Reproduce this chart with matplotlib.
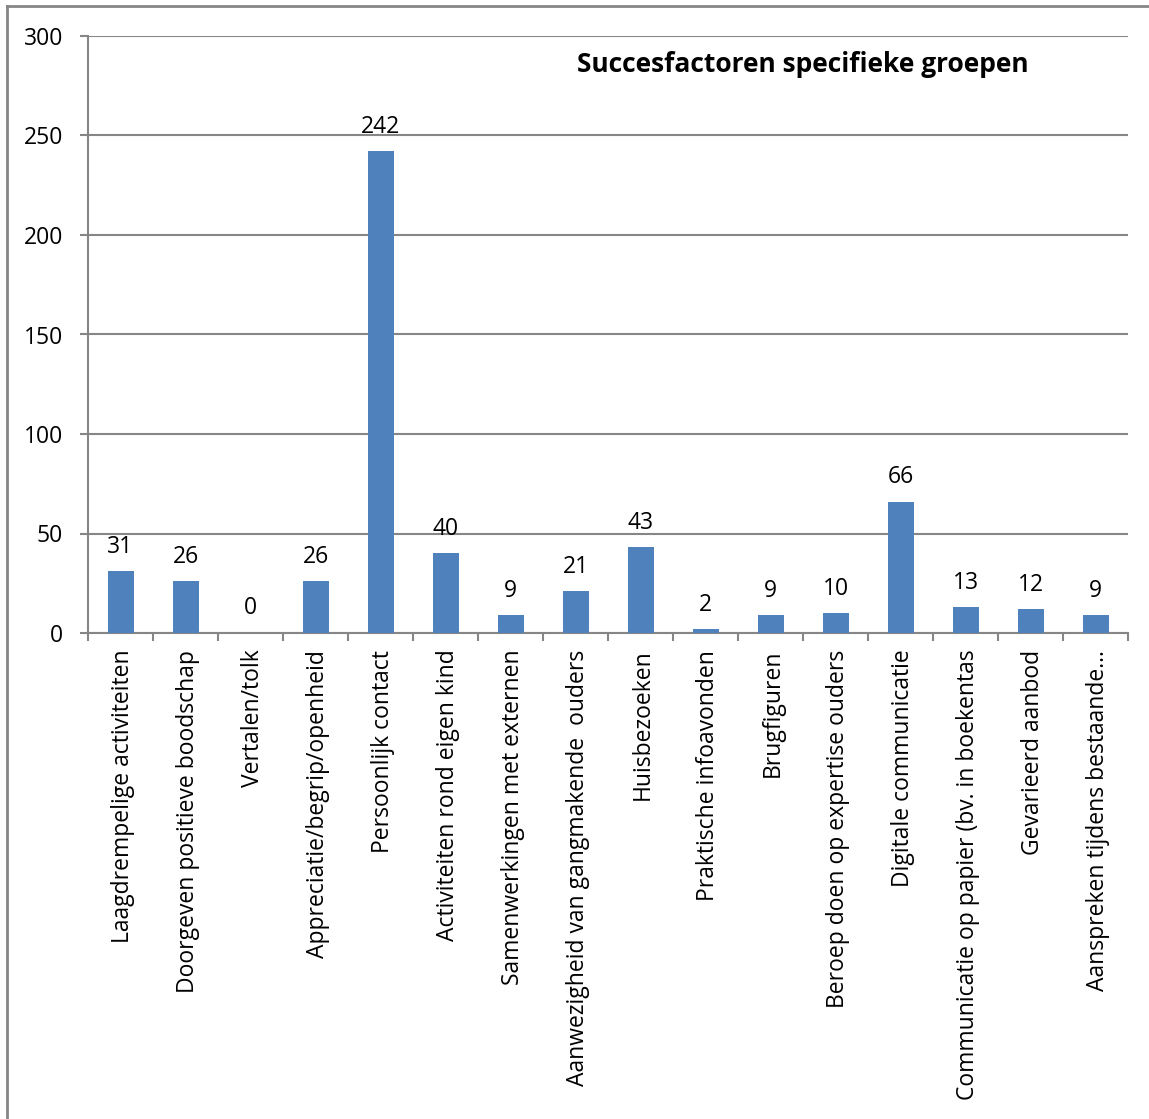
import matplotlib.pyplot as plt
from matplotlib.lines import Line2D
import numpy as np

plt.rcParams['font.family'] = ['Open Sans', 'DejaVu Sans']

categories = ['Laagdrempelige activiteiten', 'Doorgeven positieve boodschap', 'Vertalen/tolk',
              'Appreciatie/begrip/openheid', 'Persoonlijk contact', 'Activiteiten rond eigen kind',
              'Samenwerkingen met externen', 'Aanwezigheid van gangmakende  ouders', 'Huisbezoeken',
              'Praktische infoavonden', 'Brugfiguren', 'Beroep doen op expertise ouders',
              'Digitale communicatie', 'Communicatie op papier (bv. in boekentas',
              'Gevarieerd aanbod', 'Aanspreken tijdens bestaande\u2026']
values = [31, 26, 0, 26, 242, 40, 9, 21, 43, 2, 9, 10, 66, 13, 12, 9]
yticks = [0, 50, 100, 150, 200, 250, 300]

grey = '#868686'
fs = 16.5
fig = plt.figure(figsize=(11.49, 11.19), dpi=100)
ax = fig.add_axes([88/1149, 1-633/1119, (1128-88)/1149, (633-36)/1119])

x = np.arange(len(values))
bars = ax.bar(x, values, width=0.4, color='#4F81BD', zorder=3)
for xi, v in zip(x, values):
    ax.annotate(str(v), (xi, v), xytext=(0, 9), textcoords='offset points',
                ha='center', va='bottom', fontsize=fs)

ax.set_xlim(-0.5, len(values)-0.5)
ax.set_ylim(0, 300)
ax.set_yticks(yticks)
ax.set_yticklabels([str(t) for t in yticks], fontsize=fs)
ax.yaxis.grid(True, color=grey, linewidth=1.5, zorder=0)
ax.tick_params(axis='y', length=6, color=grey, width=1.5, pad=12)

ax.set_xticks(np.arange(len(values)+1)-0.5)
ax.set_xticklabels([])
ax.set_xticks(x + 0.04, minor=True)
ax.set_xticklabels(categories, minor=True, rotation=90, fontsize=fs, va='top', ha='center')
ax.tick_params(axis='x', which='major', length=6, color=grey, width=1.5)
ax.tick_params(axis='x', which='minor', length=0, pad=12)

for s in ['top', 'right']:
    ax.spines[s].set_visible(False)
for s in ['left', 'bottom']:
    ax.spines[s].set_color(grey)
    ax.spines[s].set_linewidth(1.5)

ax.text(0.687, 0.953, 'Succesfactoren specifieke groepen', transform=ax.transAxes,
        ha='center', va='center', fontsize=19, fontweight='bold')

# outer chart border (only left and top visible in the crop)
fig.add_artist(Line2D([7/1149, 7/1149], [0, 1-6/1119], transform=fig.transFigure, color=grey, lw=2))
fig.add_artist(Line2D([7/1149, 1], [1-6/1119, 1-6/1119], transform=fig.transFigure, color=grey, lw=2))

fig.savefig('out.png', dpi=100)
